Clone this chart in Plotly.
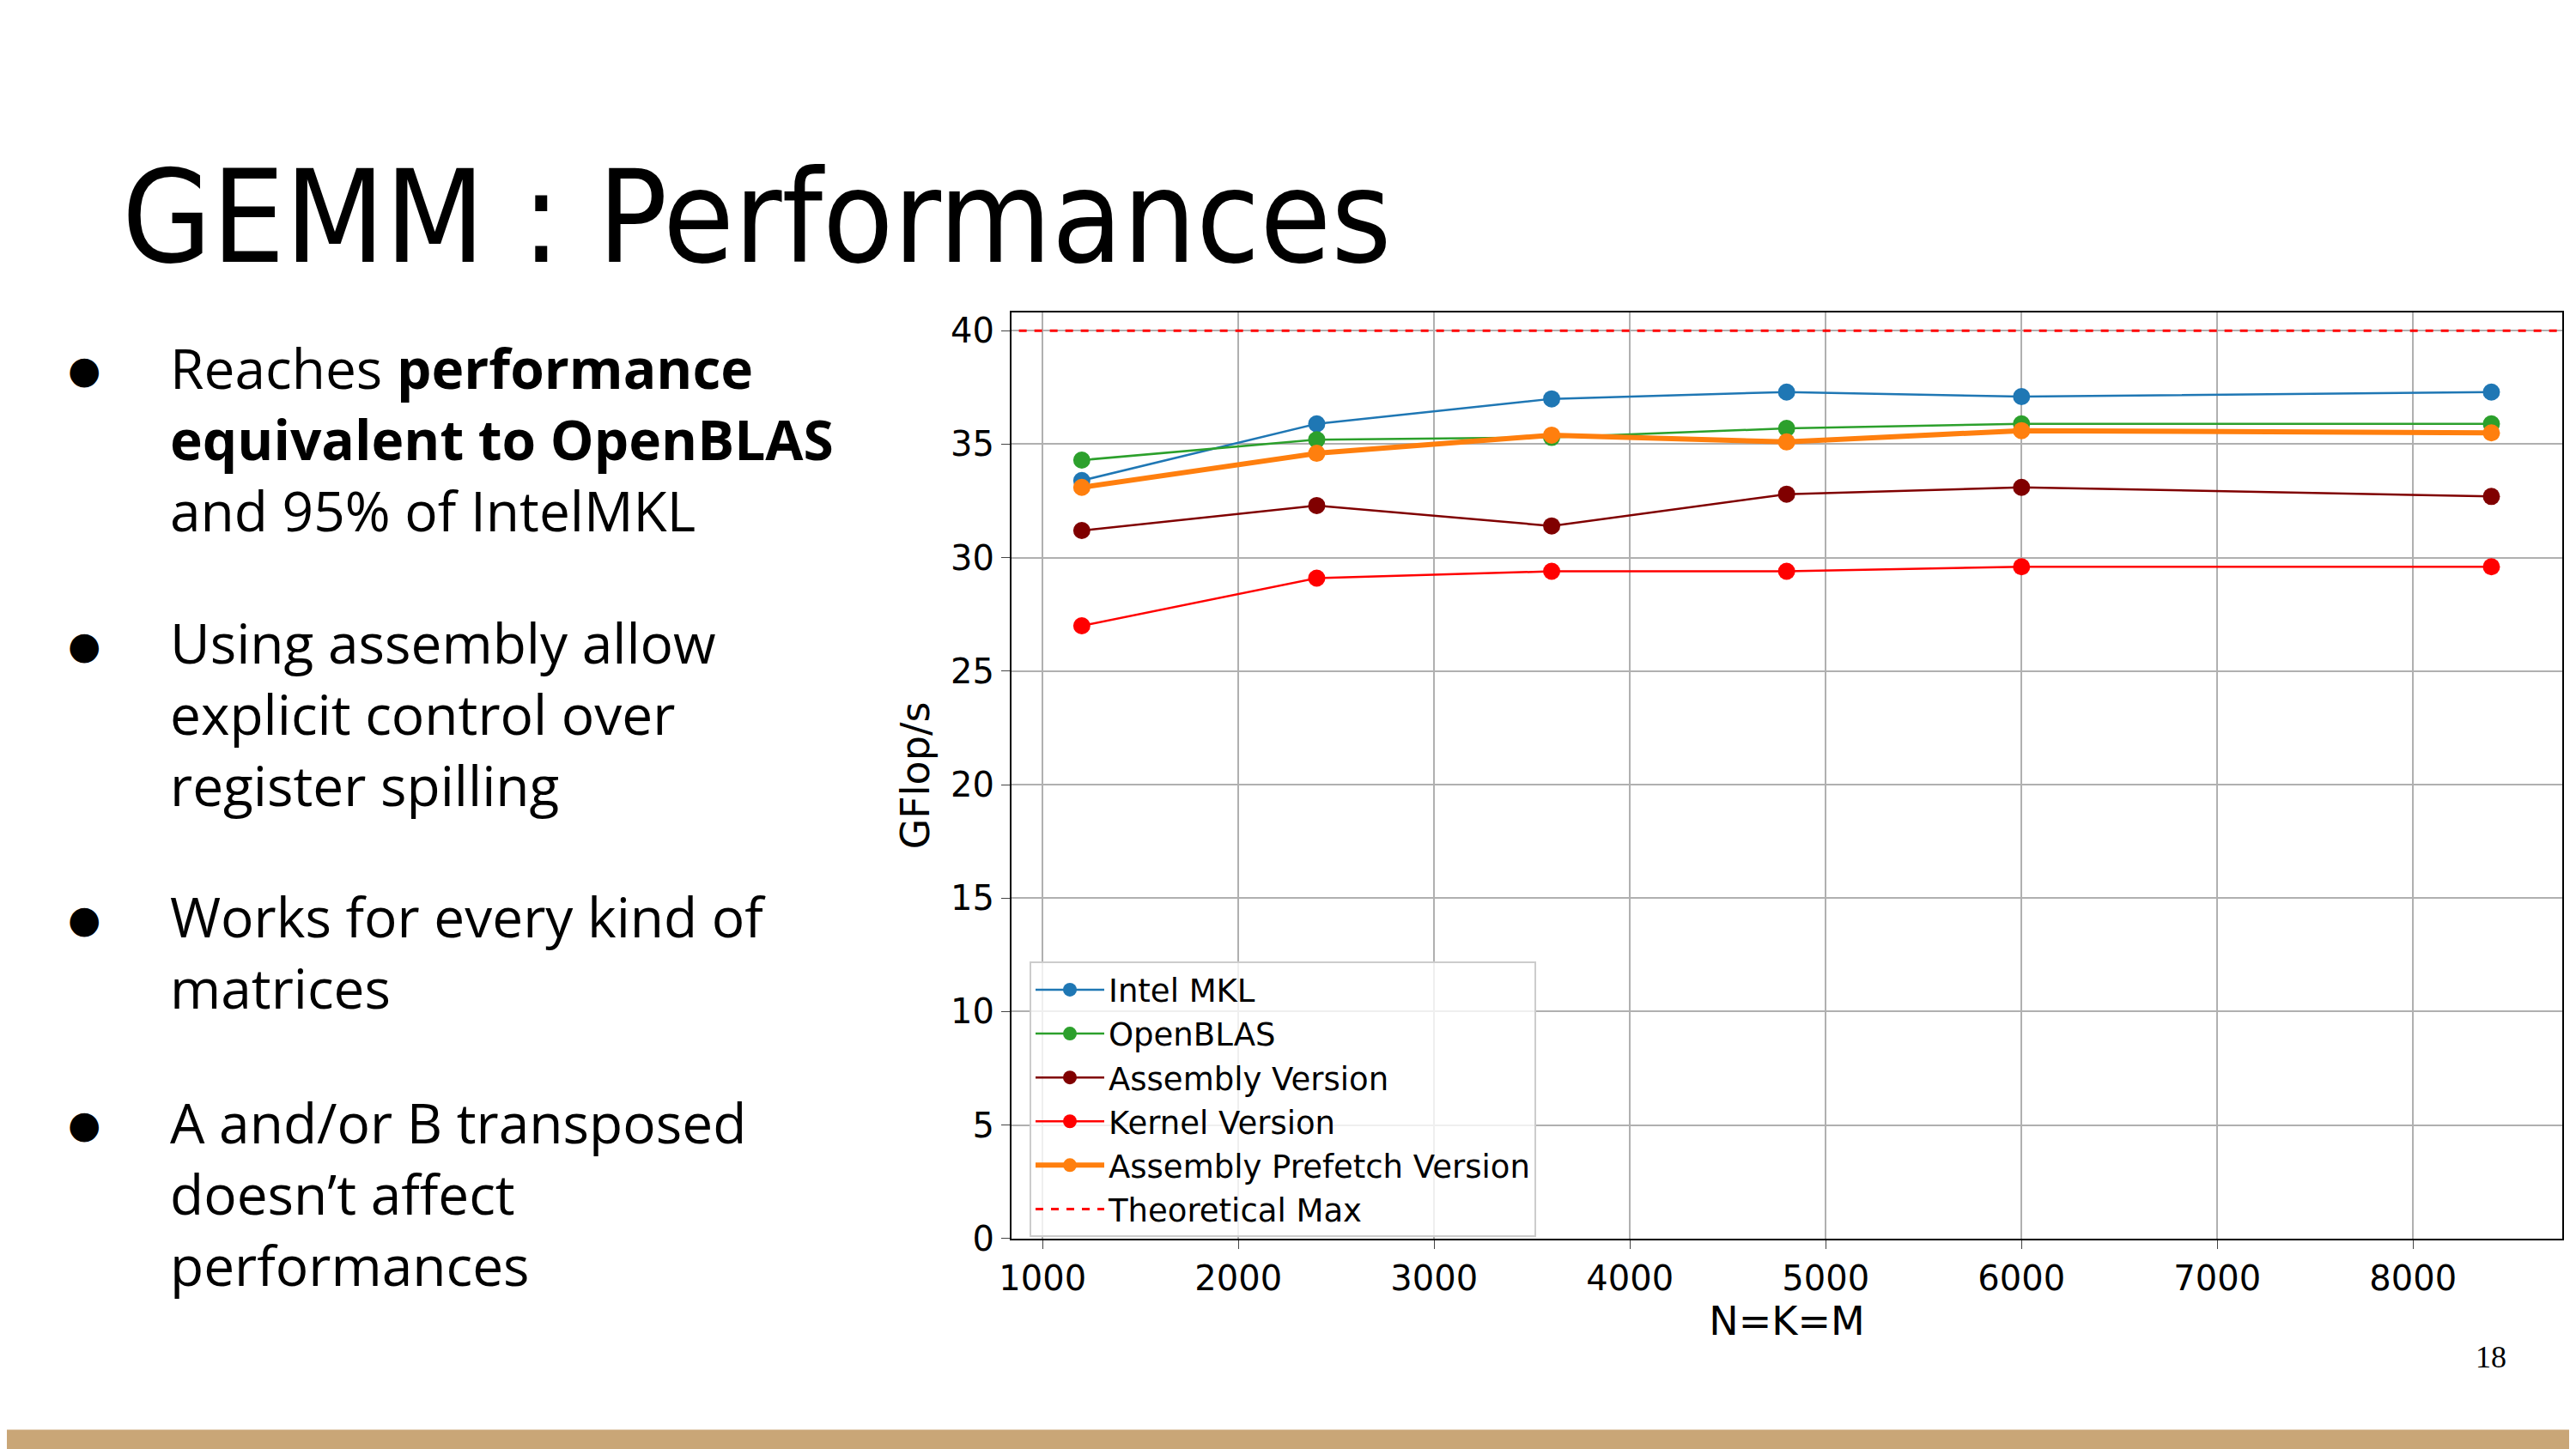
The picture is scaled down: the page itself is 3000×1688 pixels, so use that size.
import plotly.graph_objects as go

# taille de la matrice (N=K=M)
sizes = [1200, 2400, 3600, 4800, 6000, 8400]

mkl = [33.4, 35.9, 37.0, 37.3, 37.1, 37.3]
openblas = [34.3, 35.2, 35.3, 35.7, 35.9, 35.9]
assembly = [31.2, 32.3, 31.4, 32.8, 33.1, 32.7]
kernel = [27.0, 29.1, 29.4, 29.4, 29.6, 29.6]
prefetch = [33.1, 34.6, 35.4, 35.1, 35.6, 35.5]
theo_max = 40

bullets = [
    "Reaches <b>performance</b><br><b>equivalent to OpenBLAS</b><br>and 95% of IntelMKL",
    "Using assembly allow<br>explicit control over<br>register spilling",
    "Works for every kind of<br>matrices",
    "A and/or B transposed<br>doesn’t affect<br>performances",
]
bullet_y = [0.778, 0.588, 0.399, 0.257]

fig = go.Figure()

series = [
    ("Intel MKL", mkl, "#1f77b4", 2.5),
    ("OpenBLAS", openblas, "#2ca02c", 2.5),
    ("Assembly Version", assembly, "#800000", 2.5),
    ("Kernel Version", kernel, "#ff0000", 2.5),
    ("Assembly Prefetch Version", prefetch, "#ff7f0e", 6),
]
for name, vals, col, w in series:
    fig.add_trace(go.Scatter(x=sizes, y=vals, name=name, mode="lines+markers",
                             line=dict(color=col, width=w),
                             marker=dict(color=col, size=20)))

fig.add_trace(go.Scatter(x=[800, 9000], y=[theo_max, theo_max], name="Theoretical Max",
                         mode="lines", line=dict(color="#ff0000", width=3, dash="dash")))

fig.update_layout(
    width=3000, height=1688, paper_bgcolor="white", plot_bgcolor="white",
    margin=dict(l=0, r=0, t=0, b=0, autoexpand=False),
    font=dict(family="DejaVu Sans", color="black"),
    showlegend=True,
    legend=dict(x=0.397, y=0.341, xanchor="left", yanchor="top",
                font=dict(size=37), bgcolor="rgba(255,255,255,0.8)",
                bordercolor="#cccccc", borderwidth=2, itemwidth=80,
                tracegroupgap=0),
    xaxis=dict(domain=[0.39, 0.992], range=[841, 8762], dtick=1000,
               showgrid=True, gridcolor="#b0b0b0", gridwidth=2,
               showline=True, linecolor="black", linewidth=2, mirror=True,
               ticks="outside", ticklen=10, tickfont=dict(size=40),
               title=dict(text="N=K=M", font=dict(size=46), standoff=10)),
    yaxis=dict(domain=[0.15, 0.789], range=[0, 40.8], dtick=5,
               showgrid=True, gridcolor="#b0b0b0", gridwidth=2,
               showline=True, linecolor="black", linewidth=2, mirror=True,
               ticks="outside", ticklen=10, tickfont=dict(size=40),
               title=dict(text="GFlop/s", font=dict(size=46), standoff=10)),
)

# titre de la diapo
fig.add_annotation(text="GEMM : Performances", x=0.044, y=0.855, xref="paper", yref="paper",
                   xanchor="left", yanchor="middle", showarrow=False,
                   font=dict(family="Liberation Sans Narrow, DejaVu Sans Condensed, Roboto Condensed",
                             size=150, color="black"))

for txt, y in zip(bullets, bullet_y):
    fig.add_annotation(text="●", x=0.03, y=y - 0.012, xref="paper", yref="paper",
                       xanchor="center", yanchor="top", showarrow=False,
                       font=dict(family="DejaVu Sans", size=44))
    fig.add_annotation(text=txt, x=0.0625, y=y, xref="paper", yref="paper",
                       xanchor="left", yanchor="top", align="left", showarrow=False,
                       font=dict(family="Open Sans", size=64, color="black"))

fig.add_annotation(text="18", x=0.971, y=0.055, xref="paper", yref="paper",
                   showarrow=False, font=dict(family="Liberation Serif", size=36))

# bande du bas
fig.add_shape(type="rect", xref="paper", yref="paper", x0=-0.01, x1=1.01, y0=0, y1=0.018,
              fillcolor="#c9a677", line_width=0)

fig.write_html("out.html")
